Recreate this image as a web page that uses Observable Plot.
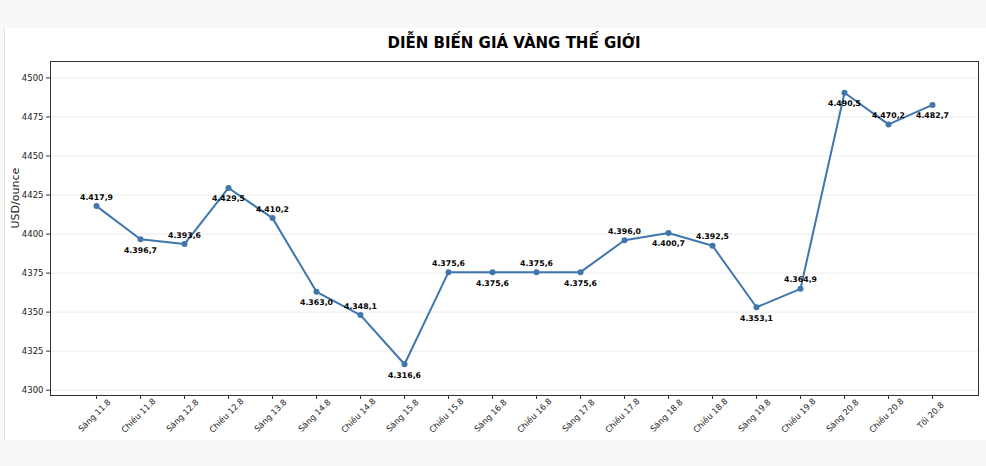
<!DOCTYPE html>
<html>
<head>
<meta charset="utf-8">
<script src="https://cdn.jsdelivr.net/npm/d3@7"></script>
<script src="https://cdn.jsdelivr.net/npm/@observablehq/plot@0.6"></script>
<style>
  html, body { margin: 0; padding: 0; background: #f8f8f8; width: 986px; height: 466px; overflow: hidden; font-family: "DejaVu Sans", sans-serif; }
  #panel { position: absolute; left: 4px; top: 28px; width: 982px; height: 412px; background: #fff; border-left: 1px solid #e4e4e4; }
  #title { position: absolute; left: 50px; width: 928px; top: 34px; text-align: center; font: bold 15px "DejaVu Sans", sans-serif; color: #000; }
  #chart { position: absolute; left: 0; top: 49px; }
</style>
</head>
<body>
<div id="panel"></div>
<div id="title">DIỄN BIẾN GIÁ VÀNG THẾ GIỚI</div>
<div id="chart"></div>
<script>
const categories = ["Sáng 11.8","Chiều 11.8","Sáng 12.8","Chiều 12.8","Sáng 13.8","Sáng 14.8","Chiều 14.8","Sáng 15.8","Chiều 15.8","Sáng 16.8","Chiều 16.8","Sáng 17.8","Chiều 17.8","Sáng 18.8","Chiều 18.8","Sáng 19.8","Chiều 19.8","Sáng 20.8","Chiều 20.8","Tối 20.8"];
const prices = [4417.9,4396.7,4393.6,4429.5,4410.2,4363.0,4348.1,4316.6,4375.6,4375.6,4375.6,4375.6,4396.0,4400.7,4392.5,4353.1,4364.9,4490.5,4470.2,4482.7];
const yTicks = [4300,4325,4350,4375,4400,4425,4450,4475,4500];
const yLabel = "USD/ounce";

const data = categories.map((c, i) => ({cat: c, price: prices[i], i}));
const fmt = v => {
  const s = v.toFixed(1).split(".");
  return s[0].replace(/\B(?=(\d{3})+(?!\d))/g, ".") + "," + s[1];
};
const above = data.filter(d => d.i % 2 === 0);
const below = data.filter(d => d.i % 2 === 1);
const blue = "#3f76ad";

const plot = Plot.plot({
  width: 986,
  height: 391,
  marginLeft: 50,
  marginRight: 8,
  marginTop: 12,
  marginBottom: 45,
  style: {fontFamily: "DejaVu Sans, sans-serif", background: "transparent", overflow: "visible"},
  x: {type: "point", domain: categories, padding: 0.95, axis: null},
  y: {domain: [4296.6, 4510.5], axis: null},
  marks: [
    Plot.gridY(yTicks, {stroke: "#e6e6e6", strokeOpacity: 1, strokeWidth: 0.8}),
    Plot.frame({stroke: "#333", strokeWidth: 1}),
    Plot.axisY(yTicks, {tickSize: 4, tickPadding: 3, fontSize: 8.5, label: null, stroke: "#333", color: "#222", tickFormat: d3.format("d")}),
    Plot.axisX({tickSize: 4, tickFormat: () => "", label: null, stroke: "#333"}),
    Plot.text(categories, {x: d => d, frameAnchor: "bottom", dy: 22, rotate: -45, textAnchor: "middle", fontSize: 8.3, fill: "#222"}),
    Plot.text([yLabel], {frameAnchor: "left", dx: -35, rotate: -90, fontSize: 11, fill: "#222"}),
    Plot.line(data, {x: "cat", y: "price", stroke: blue, strokeWidth: 2}),
    Plot.dot(data, {x: "cat", y: "price", fill: blue, r: 3}),
    Plot.text(above, {x: "cat", y: "price", text: d => fmt(d.price), dy: -9, fontSize: 7.8, fontWeight: "bold", fill: "#000"}),
    Plot.text(below, {x: "cat", y: "price", text: d => fmt(d.price), dy: 11, fontSize: 7.8, fontWeight: "bold", fill: "#000"})
  ]
});
document.getElementById("chart").appendChild(plot);
</script>
</body>
</html>
